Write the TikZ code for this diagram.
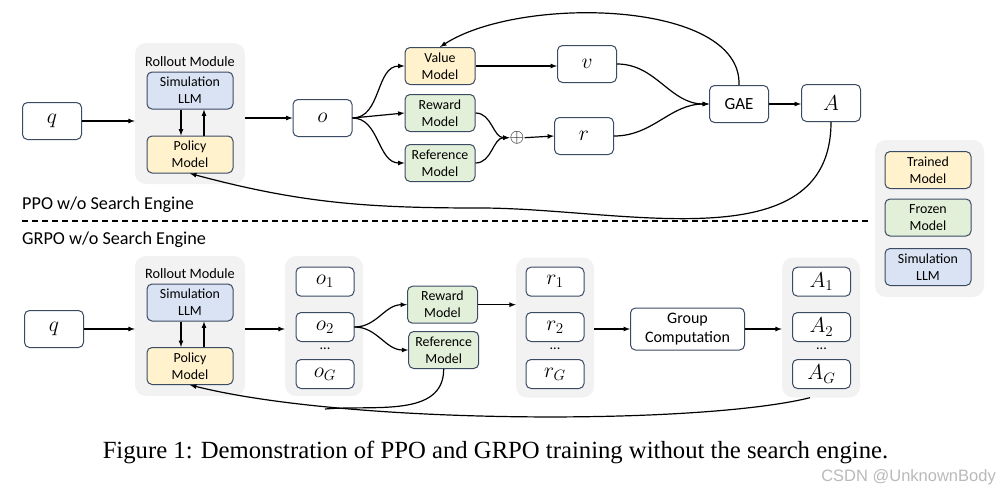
\documentclass[tikz,border=0pt]{standalone}
\usepackage{fontspec}
\setmainfont{Carlito}
\newfontfamily\capfont{Liberation Serif}
\newfontfamily\markfont{Liberation Sans}
\usetikzlibrary{arrows}
\definecolor{myline}{RGB}{59,74,99}
\definecolor{mygray}{RGB}{242,242,242}
\definecolor{myyellow}{RGB}{255,242,204}
\definecolor{mygreen}{RGB}{226,240,217}
\definecolor{myblue}{RGB}{218,227,243}
\newcommand{\mathlab}[1]{\scalebox{1.25}{$#1$}}

\tikzset{
  box/.style={draw=myline, line width=1pt, rounded corners=5pt, fill=white,
    align=center, inner sep=0pt, minimum width=59pt, minimum height=37pt,
    font=\fontsize{13.9}{17}\selectfont},
  mathbox/.style={font=\fontsize{17.28}{20}\selectfont},
  smallbox/.style={box, mathbox, minimum width=58pt, minimum height=29pt},
  trained/.style={box, fill=myyellow, minimum width=86pt},
  frozen/.style={box, fill=mygreen, minimum width=70pt},
  simllm/.style={box, fill=myblue, minimum width=86pt},
  panel/.style={fill=mygray, rounded corners=11pt, inner sep=0pt},
  flow/.style={-latex, line width=1.2pt},
  link/.style={line width=1.2pt},
  label/.style={inner sep=0pt, font=\fontsize{14.3}{17}\selectfont},
  title/.style={anchor=base west, inner sep=0pt, font=\fontsize{18.2}{20}\selectfont}
}

\begin{document}
\begin{tikzpicture}[x=1pt, y=-1pt]
\useasboundingbox (0,0) rectangle (1003,490);

% PPO
\node[box, mathbox] (q1) at (52,121) {\mathlab{q}};
\node[panel, minimum width=110pt, minimum height=141pt] (roll1) at (190,113.5) {};
\node[label, anchor=base] at (190,66) {Rollout Module};
\node[simllm] (sim1) at (190,90.5) {Simulation\\LLM};
\node[trained] (pol1) at (190,154.5) {Policy\\Model};
\draw[flow] ([xshift=-9pt]sim1.south) -- ([xshift=-9pt]pol1.north);
\draw[flow] ([xshift=14pt]pol1.north) -- ([xshift=14pt]sim1.south);

\node[box, mathbox] (o1) at (322.5,118) {\mathlab{o}};
\node[trained, minimum width=70pt] (val1) at (440,66) {Value\\Model};
\node[frozen] (rew1) at (440,113) {Reward\\Model};
\node[frozen] (ref1) at (440,163) {Reference\\Model};
\node[inner sep=0pt, mathbox] (plus1) at (517,137.7) {\scalebox{1.1}{$\oplus$}};
\node[box, mathbox] (v1) at (587,64) {\mathlab{v}};
\node[box, mathbox] (r1) at (584,136) {\mathlab{r}};
\node[box, font=\fontsize{17}{20}\selectfont] (gae1) at (739,104) {GAE};
\node[box, mathbox] (a1) at (831,103) {\mathlab{A}};

\draw[flow] (q1.east) -- (q1.east -| roll1.west);
\draw[flow] (roll1.east |- o1.west) -- (o1.west);
\draw[flow] (o1.east) to[out=0, in=180] (val1.west);
\draw[flow] (o1.east) -- (rew1.west);
\draw[flow] (o1.east) to[out=0, in=180] (ref1.west);
\draw[flow] (rew1.east) to[out=0, in=180] (plus1.west);
\draw[flow] (ref1.east) to[out=0, in=180] (plus1.west);
\draw[flow] (plus1.east) -- (r1.west);
\draw[flow] (val1.east) -- (val1.east -| v1.west);
\draw[flow] (v1.east) to[out=0, in=180] (gae1.west);
\draw[flow] (r1.east) to[out=0, in=180] (gae1.west);
\draw[flow] (gae1.east) -- (gae1.east -| a1.west);
\draw[flow] (gae1.north) .. controls (742,0) and (520,-5) .. (val1.north);
\coordinate (back1) at (480,208);
\draw[link] (a1.south) to[out=-90, in=0] (back1);
\draw[flow] (back1) to[out=180, in=-15] (pol1.south);

\node[title] at (22,209) {PPO w/o Search Engine};
\draw[line width=1.2pt, dash pattern=on 6pt off 4pt] (22,221) -- (868,221);
\node[title] at (22,244) {GRPO w/o Search Engine};

% GRPO
\node[box, mathbox] (q2) at (54,329) {\mathlab{q}};
\node[panel, minimum width=110pt, minimum height=140pt] (roll2) at (190,326) {};
\node[label, anchor=base] at (190,278.3) {Rollout Module};
\node[simllm] (sim2) at (190,302.5) {Simulation\\LLM};
\node[trained] (pol2) at (190,366) {Policy\\Model};
\draw[flow] ([xshift=-9pt]sim2.south) -- ([xshift=-9pt]pol2.north);
\draw[flow] ([xshift=14pt]pol2.north) -- ([xshift=14pt]sim2.south);

\node[panel, minimum width=78pt, minimum height=140pt] (ogrp) at (324,326) {};
\node[smallbox] (og1) at (325,281.7) {\mathlab{o_1}};
\node[smallbox] (og2) at (325,327) {\mathlab{o_2}};
\node[label] at (325,349) {...};
\node[smallbox] (og3) at (325,374) {\mathlab{o_G}};

\node[frozen] (rew2) at (442.5,304.7) {Reward\\Model};
\node[frozen] (ref2) at (443.7,350) {Reference\\Model};

\node[panel, minimum width=78pt, minimum height=140pt] (rgrp) at (555,327.5) {};
\node[smallbox] (rg1) at (555,281.7) {\mathlab{r_1}};
\node[smallbox] (rg2) at (555,327) {\mathlab{r_2}};
\node[label] at (555,349) {...};
\node[smallbox] (rg3) at (555,374) {\mathlab{r_G}};

\node[box, minimum width=114pt, minimum height=42pt, font=\fontsize{16}{19}\selectfont] (grp) at (687.5,329) {Group\\Computation};

\node[panel, minimum width=78pt, minimum height=140pt] (agrp) at (821,327.5) {};
\node[smallbox] (ag1) at (821.5,281.7) {\mathlab{A_1}};
\node[smallbox] (ag2) at (821.5,327) {\mathlab{A_2}};
\node[label] at (821.5,349) {...};
\node[smallbox] (ag3) at (821.5,374) {\mathlab{A_G}};

\draw[flow] (q2.east) -- (q2.east -| roll2.west);
\draw[flow] (roll2.east |- q2.east) -- (ogrp.west |- q2.east);
\draw[flow] (og2.east) to[out=0, in=180] (rew2.west);
\draw[flow] (og2.east) to[out=0, in=180] (ref2.west);
\draw[flow] (rew2.east) -- (rew2.east -| rgrp.west);
\draw[flow] (rgrp.east |- grp.west) -- (grp.west);
\draw[flow] (grp.east) -- (grp.east -| agrp.west);
\draw[flow] ([xshift=-11pt]agrp.south) .. controls (700,425) and (350,425) .. (pol2.south);
\draw[link] (ref2.south) to[out=-90, in=5] (325,409);

% legend
\node[panel, minimum width=109pt, minimum height=157pt] (leg) at (929.5,218.5) {};
\node[trained] (legt) at (928,170) {Trained\\Model};
\node[frozen, minimum width=86pt] (legf) at (928,217.5) {Frozen\\Model};
\node[simllm] (legs) at (928,267) {Simulation\\LLM};

\node[anchor=base, inner sep=0pt, font=\capfont\fontsize{24.7}{28}\selectfont] (cap) at (495.5,458)
  {Figure 1: Demonstration of PPO and GRPO training without the search engine.};
\node[anchor=base east, inner sep=0pt, text=gray!55, font=\markfont\fontsize{16.5}{18}\selectfont] (mark) at (996,481)
  {CSDN @UnknownBody};
\end{tikzpicture}
\end{document}
